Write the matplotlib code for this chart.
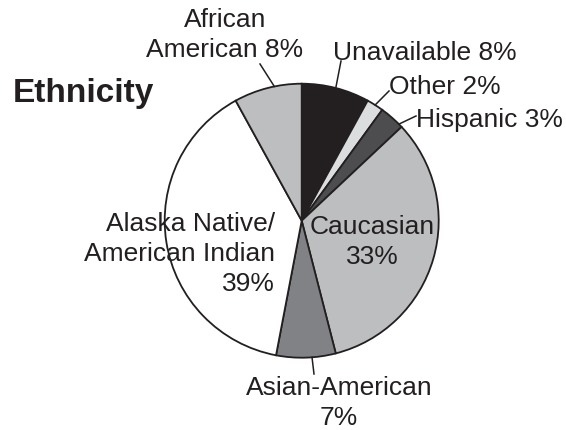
import matplotlib
matplotlib.use("Agg")
import matplotlib.pyplot as plt
import numpy as np

plt.rcParams['font.family'] = ['Liberation Sans', 'DejaVu Sans']

categories = ["Unavailable", "Other", "Hispanic", "Caucasian",
              "Asian-American", "Alaska Native/\nAmerican Indian", "African\nAmerican"]
values = [8, 2, 3, 33, 7, 39, 8]
colors = ["#231f20", "#dcddde", "#4d4d4f", "#bcbec0", "#808285", "#ffffff", "#bcbec0"]
title = "Ethnicity"

W, H = 566, 431
fig = plt.figure(figsize=(W / 100, H / 100), dpi=100)
ax = fig.add_axes([0, 0, 1, 1])

cx, cy, R = 301.7, 221.7, 137
# pie drawn in a y-down coordinate system: counterclock=True in data appears clockwise
wedges, _ = ax.pie(values, colors=colors, startangle=-90, counterclock=True,
                   center=(cx, cy), radius=R,
                   wedgeprops=dict(edgecolor='#231f20', linewidth=1.3))
ax.set_xlim(0, W)
ax.set_ylim(H, 0)
ax.set_aspect('equal')
ax.axis('off')

tc = '#231f20'
fs = 19
ls = 1.3

def edge_point(i, frac=0.5, r=R):
    w = wedges[i]
    a = np.deg2rad(w.theta1 + frac * (w.theta2 - w.theta1))
    return cx + r * np.cos(a), cy + r * np.sin(a)

# Ethnicity title
ax.text(13, 102, title, fontsize=24, fontweight='bold', color=tc, ha='left', va='baseline')

# Unavailable
ax.text(333, 60, f"{categories[0]} {values[0]}%", fontsize=fs, color=tc, ha='left', va='baseline')
px, py = edge_point(0)
ax.plot([341, px], [62, py], color=tc, lw=1.1)

# Other
ax.text(389, 94, f"{categories[1]} {values[1]}%", fontsize=fs, color=tc, ha='left', va='baseline')
px, py = edge_point(1)
ax.plot([389, px], [92, py], color=tc, lw=1.1)

# Hispanic
ax.text(416, 127, f"{categories[2]} {values[2]}%", fontsize=fs, color=tc, ha='left', va='baseline')
px, py = edge_point(2, 0.85)
ax.plot([416, px], [117, py], color=tc, lw=1.1)

# Caucasian (inside)
ax.text(372, 242, f"{categories[3]}\n{values[3]}%", fontsize=fs, color=tc, ha='center', va='center',
        multialignment='center', linespacing=ls)

# Asian-American
ax.text(339, 403, f"{categories[4]}\n{values[4]}%", fontsize=fs, color=tc, ha='center', va='center',
        multialignment='center', linespacing=ls)
px, py = edge_point(4, 0.4)
ax.plot([314, px], [375, py], color=tc, lw=1.1)

# Alaska Native
ax.text(275, 254, f"{categories[5]}\n{values[5]}%", fontsize=fs, color=tc, ha='right', va='center',
        multialignment='right', linespacing=ls)

# African American
ax.text(225, 35, f"{categories[6]} {values[6]}%", fontsize=fs, color=tc, ha='center', va='center',
        multialignment='center', linespacing=ls)
px, py = edge_point(6, 0.6)
ax.plot([260, px], [65, py], color=tc, lw=1.1)

fig.savefig("out.png", dpi=100)
